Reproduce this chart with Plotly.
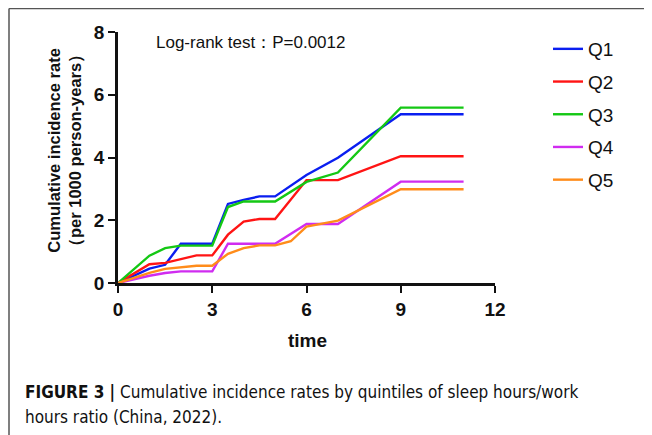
import plotly.graph_objects as go

# ---- data ----
series_names = ["Q1", "Q2", "Q3", "Q4", "Q5"]
series_colors = ["#0a1ef0", "#ff1414", "#14c814", "#d02cf0", "#ff8c1a"]

q1_time = [0, 1, 1.5, 2, 3, 3.5, 4, 4.5, 5, 6, 7, 9, 11]
q1_rate = [0, 0.46, 0.58, 1.25, 1.25, 2.52, 2.65, 2.76, 2.76, 3.44, 3.99, 5.38, 5.38]

q2_time = [0, 1, 1.5, 2.5, 3, 3.5, 4, 4.5, 5, 6, 7, 9, 11]
q2_rate = [0, 0.6, 0.64, 0.88, 0.88, 1.54, 1.96, 2.04, 2.04, 3.28, 3.28, 4.04, 4.04]

q3_time = [0, 1, 1.5, 2, 3, 3.5, 4, 5, 6, 7, 9, 11]
q3_rate = [0, 0.87, 1.11, 1.19, 1.19, 2.42, 2.6, 2.6, 3.22, 3.52, 5.59, 5.59]

q4_time = [0, 1, 1.5, 2, 3, 3.5, 5, 6, 7, 9, 11]
q4_rate = [0, 0.23, 0.32, 0.37, 0.37, 1.25, 1.25, 1.88, 1.88, 3.23, 3.23]

q5_time = [0, 1, 1.5, 2.5, 3, 3.5, 4, 4.5, 5, 5.5, 6, 7, 9, 11]
q5_rate = [0, 0.32, 0.45, 0.55, 0.55, 0.93, 1.11, 1.2, 1.2, 1.33, 1.8, 1.99, 2.99, 2.99]

x_ticks = [0, 3, 6, 9, 12]
y_ticks = [0, 2, 4, 6, 8]

annotation_text = "Log-rank test：P=0.0012"
x_title = "time"
y_title = "Cumulative incidence rate<br>（per 1000 person-years）"
caption_line1 = "<b>FIGURE 3 |</b> Cumulative incidence rates by quintiles of sleep hours/work"
caption_line2 = "hours ratio (China, 2022)."

times = [q1_time, q2_time, q3_time, q4_time, q5_time]
rates = [q1_rate, q2_rate, q3_rate, q4_rate, q5_rate]

# ---- layout geometry ----
# the page body has an 8px margin, so the figure is drawn 8px in from the window edge
OFF = 8
W, H = 652 - OFF, 435 - OFF
ML, MR, MT, MB = 118 - OFF, 157, 32 - OFF, 152
PW, PH = W - ML - MR, H - MT - MB


def px_x(p):
    """window pixel -> paper x"""
    return (p - OFF - ML) / PW


def px_y(p):
    """window pixel -> paper y"""
    return (H - MB - (p - OFF)) / PH


fig = go.Figure()
for i, name in enumerate(series_names):
    fig.add_trace(go.Scatter(
        x=times[i], y=rates[i], mode="lines", name=name,
        line=dict(color=series_colors[i], width=2.4),
        cliponaxis=False, legendgroup=name,
    ))

FONT = "Liberation Sans, Arial, Helvetica, sans-serif"
axis_font = dict(family=FONT, size=19, color="#111")

fig.update_layout(
    width=W, height=H,
    margin=dict(l=ML, r=MR, t=MT, b=MB, pad=0, autoexpand=False),
    paper_bgcolor="white", plot_bgcolor="white",
    font=dict(family=FONT, color="#111"),
    showlegend=True,
    legend=dict(
        x=px_x(548), y=px_y(30), xanchor="left", yanchor="top",
        font=dict(family=FONT, size=19, color="#111"), tracegroupgap=5,
        bgcolor="rgba(0,0,0,0)", itemwidth=30,
    ),
    xaxis=dict(
        range=[0, 12], tickvals=x_ticks, ticktext=[f"<b>{t}</b>" for t in x_ticks],
        showgrid=False, zeroline=False, showline=True, linecolor="#111", linewidth=2.6,
        ticks="outside", ticklen=7, tickwidth=2.4, tickcolor="#111",
        tickfont=axis_font, automargin=False,
    ),
    yaxis=dict(
        range=[0, 8], tickvals=y_ticks, ticktext=[f"<b>{t}</b>" for t in y_ticks],
        showgrid=False, zeroline=False, showline=True, linecolor="#111", linewidth=2.6,
        ticks="outside", ticklen=7, tickwidth=2.4, tickcolor="#111",
        tickfont=axis_font, automargin=False,
    ),
)

fig.add_annotation(
    text=f"<b>{x_title}</b>", xref="paper", yref="paper",
    x=px_x(307), y=px_y(340), xanchor="center", yanchor="middle",
    showarrow=False, font=dict(family=FONT, size=19, color="#111"),
)
fig.add_annotation(
    text=f"<b>{y_title}</b>", xref="paper", yref="paper",
    x=px_x(65), y=px_y(151), xanchor="center", yanchor="middle",
    textangle=-90, showarrow=False, font=dict(family=FONT, size=16.5, color="#111"),
)
fig.add_annotation(
    text=annotation_text, xref="paper", yref="paper",
    x=px_x(154), y=px_y(43), xanchor="left", yanchor="middle",
    showarrow=False, font=dict(family=FONT, size=17, color="#111"),
)
cap_font = dict(family="DejaVu Sans Condensed, DejaVu Sans, sans-serif", size=17, color="#111")
fig.add_annotation(
    text=caption_line1, xref="paper", yref="paper",
    x=px_x(23), y=px_y(392), xanchor="left", yanchor="middle",
    showarrow=False, font=cap_font, align="left",
)
fig.add_annotation(
    text=caption_line2, xref="paper", yref="paper",
    x=px_x(23), y=px_y(417), xanchor="left", yanchor="middle",
    showarrow=False, font=cap_font, align="left",
)

# figure frame (top and left border of the panel)
frame = dict(color="#555", width=1.5)
fig.add_shape(type="line", xref="paper", yref="paper",
              x0=px_x(9), x1=px_x(660), y0=px_y(8.5), y1=px_y(8.5), line=frame)
fig.add_shape(type="line", xref="paper", yref="paper",
              x0=px_x(9), x1=px_x(9), y0=px_y(8.5), y1=px_y(445), line=frame)

fig.write_html("out.html")
